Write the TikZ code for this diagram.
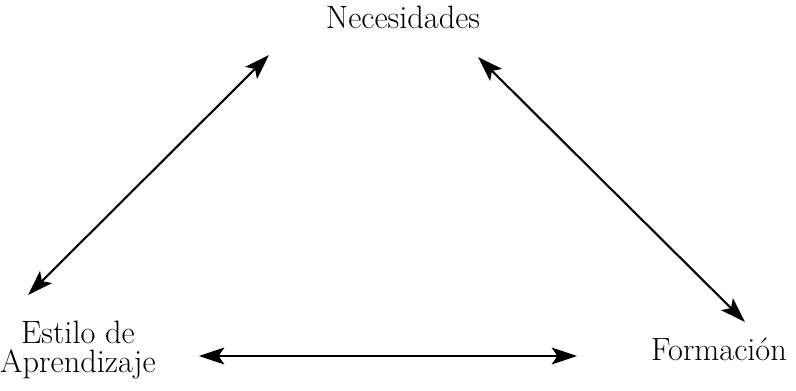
\documentclass[tikz,border=0pt]{standalone}
\usetikzlibrary{arrows.meta}
\tikzset{
	rel/.style={line width=1.5pt, {Stealth[length=18pt,width=12pt,inset=4pt]}-{Stealth[length=18pt,width=12pt,inset=4pt]}},
	etiq/.style={font=\fontsize{23}{21}\selectfont, inner sep=0pt, align=center}
}
\begin{document}
\begin{tikzpicture}[x=0.025cm, y=-0.025cm]
	\useasboundingbox (0,0) rectangle (796,390);
	\node[etiq, anchor=base] (nec) at (403,28) {Necesidades};
	\node[etiq] (est) at (78,350) {Estilo de\\Aprendizaje};
	\node[etiq, anchor=base] (for) at (719,360) {Formación};

	\coordinate (estA) at (28,295);
	\coordinate (necA) at (269,55);
	\coordinate (necB) at (478,57);
	\coordinate (forB) at (745,322);
	\coordinate (estC) at (199,356);
	\coordinate (forC) at (577,356);

	\path[rel] (estA) edge (necA);
	\path[rel] (necB) edge (forB);
	\path[rel] (estC) edge (forC);
\end{tikzpicture}
\end{document}
